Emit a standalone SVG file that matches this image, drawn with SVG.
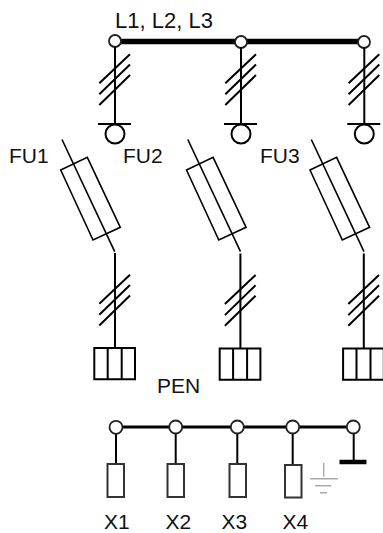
<svg xmlns="http://www.w3.org/2000/svg" width="383" height="533" viewBox="0 0 383 533">
<style>
.l{fill:none;stroke:#000;stroke-width:1.6}
.s{fill:none;stroke:#000;stroke-width:2}
.n{fill:#fff;stroke:#222;stroke-width:1.8}
.b{fill:#fff;stroke:#333;stroke-width:2}
.g{fill:none;stroke:#aaa;stroke-width:1.4}
text{font-family:"Liberation Sans",Arial,sans-serif;font-size:21px;fill:#111}
</style>
<defs>
<g id="slash"><path class="s" d="M99.3 83.3 130 54.3M99.3 94.3 130 64.5M99.3 105 130 75"/></g>
<g id="fuse"><path class="l" d="M62 139.5 114.7 251.7"/><path class="l" d="M60.7 170 87.3 157.3 120.3 227.3 93 240Z"/></g>
<g id="outbox"><path class="s" d="M115 253V348M94.3 379.300V348H135V379.300ZM107.700 348V379.300M121.700 348V379.300"/></g>
<g id="down"><path class="s" d="M115 47V124M98 124H131"/><circle cx="115" cy="134" r="9.500" class="s"/></g>
</defs>
<g id="connectors">
<path d="M115 41.500H364" stroke="#000" stroke-width="5.500" fill="none"/>
<path d="M116 427H353" stroke="#000" stroke-width="3" fill="none"/>
<path class="s" d="M116 433V464M175.700 433V464M237.300 433V464M292.700 433V465M353.700 433V462"/>
<path d="M339.500 462H366.500" stroke="#000" stroke-width="4.500" fill="none"/>
</g>
<g id="bus-L"><circle cx="115" cy="41" r="6" class="n"/><circle cx="241" cy="42" r="6" class="n"/><circle cx="364" cy="42" r="6" class="n"/><text x="115" y="28" style="font-size:22px">L1, L2, L3</text></g>
<g id="branch1"><use href="#down"/><use href="#slash"/><use href="#fuse"/><use href="#outbox"/><use href="#slash" y="220.500"/><text x="9" y="163">FU1</text></g>
<g id="branch2"><use href="#down" x="126"/><use href="#slash" x="126"/><use href="#fuse" x="125.800"/><use href="#outbox" x="125.400" y="0.500"/><use href="#slash" x="125.600" y="220.800"/><text x="123" y="163">FU2</text></g>
<g id="branch3"><use href="#down" x="249.300"/><use href="#slash" x="249.300"/><use href="#fuse" x="249.300"/><use href="#outbox" x="248.800" y="0.500"/><use href="#slash" x="249" y="220.800"/><text x="260" y="163">FU3</text></g>
<g id="pen"><text x="157" y="393">PEN</text><circle cx="116" cy="427.300" r="6.500" class="n"/><circle cx="175.700" cy="427" r="6.500" class="n"/><circle cx="237.300" cy="427" r="6.500" class="n"/><circle cx="292.700" cy="427" r="6.500" class="n"/><circle cx="353.300" cy="427" r="6.500" class="n"/></g>
<g id="x1"><rect x="107.500" y="464" width="16.500" height="33" class="b"/><text x="104" y="528.500">X1</text></g>
<g id="x2"><rect x="167.500" y="464" width="16.500" height="33" class="b"/><text x="165.500" y="528.500">X2</text></g>
<g id="x3"><rect x="229.500" y="464" width="16.500" height="33" class="b"/><text x="221.500" y="528.500">X3</text></g>
<g id="x4"><rect x="285" y="465" width="16.500" height="32.500" class="b"/><text x="282.500" y="528.500">X4</text></g>
<g id="earth"><path class="g" d="M323.700 462.700V476.700M310 478.700H338M315 485.700H331M320 492.700H327"/></g>
</svg>
